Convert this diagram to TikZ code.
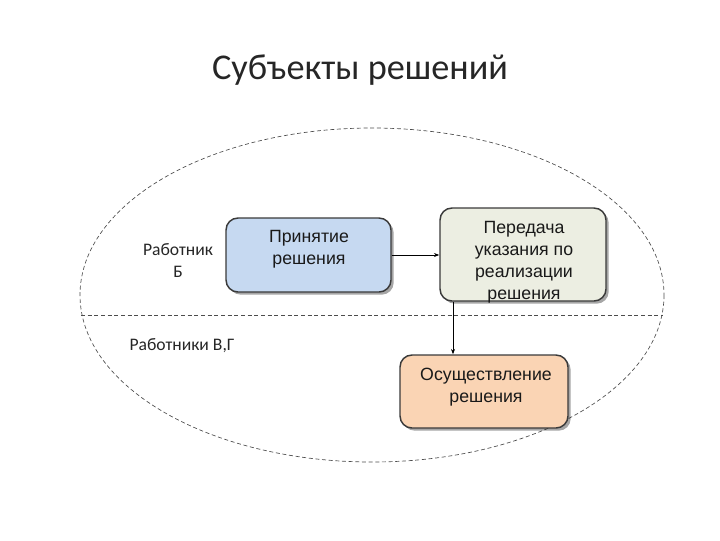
\documentclass[tikz,border=0pt]{standalone}
\usepackage{fontspec}
\setmainfont{Carlito}
\newfontfamily\boxfont{Liberation Sans}
\usetikzlibrary{shadows,arrows.meta}
\definecolor{bluefill}{HTML}{C6D9F1}
\definecolor{greenfill}{HTML}{ECEEE2}
\definecolor{peachfill}{HTML}{FAD4B4}
\definecolor{edgecol}{HTML}{3A3A3A}
\tikzset{
  procbox/.style={draw=edgecol, line width=1.1pt, rounded corners=9pt,
    drop shadow={shadow xshift=2pt, shadow yshift=-2pt, opacity=0.35, fill=black}},
  boxtext/.style={align=center, font=\boxfont\fontsize{13.3}{16.5}\selectfont, text=black!90, anchor=north},
  dashline/.style={draw=black!70, dash pattern=on 3pt off 2pt, line width=0.5pt},
  conn/.style={draw=black, line width=0.6pt, -{Stealth[length=4pt,width=3pt]}},
  lbl/.style={align=center, font=\fontsize{13.2}{16.5}\selectfont, text=black!85}
}
\begin{document}
\begin{tikzpicture}[x=0.75pt,y=-0.75pt]
\useasboundingbox (0,0) rectangle (720,540);
\node[font=\fontsize{27.2}{32}\selectfont, text=black!85] (title) at (360,70) {Субъекты решений};
\draw[dashline] (372,295) ellipse [x radius=292, y radius=167];
\coordinate (hl) at (81,315);
\coordinate (hr) at (663,315);
\draw[dashline] (hl) -- (hr);
\node[procbox, fill=bluefill, minimum width=123.75pt, minimum height=55.5pt] (b1) at (308.5,255) {};
\node[procbox, fill=greenfill, minimum width=124.5pt, minimum height=69.75pt] (b2) at (523,254.5) {};
\node[procbox, fill=peachfill, minimum width=126pt, minimum height=54.75pt] (b3) at (484,391.5) {};
\node[boxtext] (t1) at (309,226) {Принятие\\решения};
\node[boxtext] (t2) at (524,217) {Передача\\указания по\\реализации\\решения};
\node[boxtext] (t3) at (486,363) {Осуществление\\решения};
\node[lbl] (w1) at (178,261) {Работник\\Б};
\node[lbl] (w2) at (182,346) {Работники В,Г};
\draw[conn] (b1.east) -- (b2.west |- b1.east);
\draw[conn] ([xshift=-52.5pt]b2.south) -- ([xshift=-52.5pt]b2.south |- b3.north);
\end{tikzpicture}
\end{document}
